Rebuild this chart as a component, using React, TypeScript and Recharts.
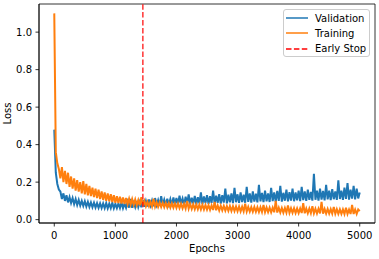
import React from 'react';
import { LineChart, Line, XAxis, YAxis, ReferenceLine, ReferenceArea, Legend, Label } from 'recharts';

const EPOCH_STEP = 25;

const validationLoss = [
  0.48, 0.25, 0.19, 0.16,
  0.15, 0.11, 0.14, 0.10, 0.13, 0.092, 0.12, 0.088,
  0.115, 0.082, 0.11, 0.078, 0.105, 0.075, 0.10, 0.073,
  0.098, 0.07, 0.095, 0.068, 0.092, 0.066, 0.09, 0.064, 0.088, 0.063, 0.087, 0.062,
  0.086, 0.061, 0.088, 0.06, 0.085, 0.061, 0.09, 0.06, 0.084, 0.061, 0.086, 0.062, 0.092, 0.061, 0.085, 0.063,
  0.095, 0.064, 0.11, 0.063, 0.09, 0.066, 0.1, 0.067, 0.095, 0.066, 0.105, 0.068,
  0.1, 0.07, 0.108, 0.075, 0.102, 0.071, 0.115, 0.078, 0.104, 0.074, 0.125, 0.079, 0.106, 0.076, 0.112, 0.08, 0.109, 0.077, 0.118, 0.081,
  0.115, 0.08, 0.128, 0.084, 0.112, 0.079, 0.122, 0.085, 0.135, 0.082, 0.117, 0.086, 0.126, 0.081, 0.12, 0.087, 0.145, 0.083, 0.124, 0.088,
  0.13, 0.084, 0.125, 0.089, 0.155, 0.085, 0.128, 0.09, 0.136, 0.086, 0.13, 0.091, 0.165, 0.087, 0.133, 0.092, 0.14, 0.088, 0.17, 0.093,
  0.135, 0.089, 0.145, 0.094, 0.133, 0.09, 0.175, 0.095, 0.14, 0.091, 0.15, 0.096, 0.138, 0.092, 0.185, 0.097, 0.143, 0.093, 0.155, 0.098,
  0.14, 0.094, 0.17, 0.099, 0.145, 0.095, 0.153, 0.1, 0.18, 0.096, 0.143, 0.101, 0.16, 0.097, 0.147, 0.102, 0.165, 0.098, 0.145, 0.103,
  0.155, 0.099, 0.175, 0.104, 0.15, 0.1, 0.16, 0.105, 0.148, 0.101, 0.245, 0.106, 0.155, 0.102, 0.165, 0.107, 0.153, 0.103, 0.185, 0.108,
  0.155, 0.104, 0.163, 0.109, 0.15, 0.105, 0.21, 0.11, 0.155, 0.106, 0.17, 0.111, 0.195, 0.107, 0.16, 0.112, 0.18, 0.108, 0.165, 0.113, 0.145,
];

const trainingLoss = [
  1.10, 0.36, 0.30, 0.27,
  0.22, 0.28, 0.2, 0.26, 0.19, 0.25, 0.175, 0.23,
  0.165, 0.22, 0.155, 0.21, 0.15, 0.2, 0.14, 0.205,
  0.135, 0.19, 0.13, 0.18, 0.125, 0.17, 0.12, 0.165, 0.115, 0.16, 0.11, 0.15,
  0.105, 0.145, 0.1, 0.14, 0.097, 0.135, 0.094, 0.13, 0.09, 0.125, 0.088, 0.122, 0.086, 0.118, 0.084, 0.115,
  0.082, 0.112, 0.08, 0.11, 0.079, 0.107, 0.077, 0.104, 0.076, 0.12, 0.075, 0.1,
  0.072, 0.095, 0.071, 0.094, 0.07, 0.112, 0.069, 0.092, 0.068, 0.091, 0.067, 0.09, 0.066, 0.089, 0.065, 0.088, 0.064, 0.087, 0.063, 0.086,
  0.062, 0.086, 0.061, 0.085, 0.06, 0.084, 0.059, 0.1, 0.058, 0.083, 0.057, 0.082, 0.056, 0.081, 0.055, 0.08, 0.054, 0.079, 0.054, 0.078,
  0.053, 0.077, 0.052, 0.076, 0.051, 0.095, 0.05, 0.075, 0.049, 0.074, 0.049, 0.073, 0.048, 0.072, 0.047, 0.072, 0.046, 0.071, 0.046, 0.07,
  0.045, 0.07, 0.044, 0.069, 0.044, 0.085, 0.043, 0.068, 0.043, 0.067, 0.042, 0.067, 0.042, 0.066, 0.041, 0.066, 0.041, 0.078, 0.04, 0.065,
  0.04, 0.064, 0.039, 0.064, 0.039, 0.1, 0.038, 0.063, 0.038, 0.062, 0.037, 0.062, 0.037, 0.075, 0.036, 0.061, 0.036, 0.061, 0.035, 0.06,
  0.035, 0.06, 0.035, 0.088, 0.034, 0.059, 0.034, 0.059, 0.034, 0.072, 0.033, 0.058, 0.033, 0.058, 0.033, 0.095, 0.032, 0.057, 0.032, 0.057,
  0.032, 0.056, 0.032, 0.068, 0.031, 0.056, 0.031, 0.055, 0.031, 0.055, 0.03, 0.063, 0.03, 0.054, 0.03, 0.078, 0.03, 0.054, 0.03, 0.054, 0.045,
];

const EARLY_STOP_EPOCH = 1450;
const xTicks = [0, 1000, 2000, 3000, 4000, 5000];
const yTicks = [0, 0.2, 0.4, 0.6, 0.8, 1.0];
const X_DOMAIN: [number, number] = [-250, 5250];
const Y_DOMAIN: [number, number] = [-0.018, 1.15];

const BLUE = '#1f77b4';
const ORANGE = '#ff7f0e';
const RED = '#ff0000';
const FONT = '"DejaVu Sans", sans-serif';

const data = validationLoss.map((v, i) => ({
  epoch: i * EPOCH_STEP,
  validation: v,
  training: trainingLoss[i],
}));

const legendItems = [
  { label: 'Validation', color: BLUE, dash: undefined },
  { label: 'Training', color: ORANGE, dash: undefined },
  { label: 'Early Stop', color: RED, dash: '5.5 2.4' },
];

function LossLegend() {
  return (
    <div
      style={{
        position: 'relative',
        width: 87,
        height: 48,
        boxSizing: 'border-box',
        border: '1px solid #cccccc',
        borderRadius: 3,
        background: 'rgba(255,255,255,0.8)',
        fontFamily: FONT,
        fontSize: 10,
        color: '#000',
      }}
    >
      {legendItems.map((item, i) => (
        <div
          key={item.label}
          style={{
            position: 'absolute',
            left: 2,
            top: 0.5 + i * 15.3,
            height: 15,
            display: 'flex',
            alignItems: 'center',
            whiteSpace: 'nowrap',
          }}
        >
          <svg width={22} height={4} style={{ display: 'block' }}>
            <line x1={0} x2={22} y1={2} y2={2} stroke={item.color} strokeWidth={1.5} strokeDasharray={item.dash} />
          </svg>
          <span style={{ marginLeft: 7, lineHeight: '15px' }}>{item.label}</span>
        </div>
      ))}
    </div>
  );
}

const tickStyle = { fontSize: 10, fill: '#000', fontFamily: FONT };

export default function App() {
  return (
    <div style={{ position: 'absolute', left: 0, top: 0, width: 379, height: 259, background: '#fff' }}>
      <LineChart width={379} height={259} data={data} margin={{ top: 4, right: 4, bottom: 0, left: 0 }}>
        <XAxis
          dataKey="epoch"
          type="number"
          domain={X_DOMAIN}
          ticks={xTicks}
          allowDataOverflow
          height={36}
          tickSize={3.5}
          tickMargin={5}
          tick={tickStyle}
          stroke="#000"
          strokeWidth={0.8}
        >
          <Label value="Epochs" position="insideBottom" offset={7.5} style={{ fontSize: 10, fill: '#000', fontFamily: FONT }} />
        </XAxis>
        <YAxis
          type="number"
          domain={Y_DOMAIN}
          ticks={yTicks}
          allowDataOverflow
          width={39}
          tickSize={3.5}
          tickMargin={3.5}
          tick={tickStyle}
          tickFormatter={(v: number) => v.toFixed(1)}
          stroke="#000"
          strokeWidth={0.8}
        >
          <Label
            value="Loss"
            angle={-90}
            position="insideLeft"
            offset={7}
            style={{ fontSize: 10, fill: '#000', fontFamily: FONT, textAnchor: 'middle' }}
          />
        </YAxis>
        <ReferenceArea
          x1={X_DOMAIN[0]}
          x2={X_DOMAIN[1]}
          y1={Y_DOMAIN[0]}
          y2={Y_DOMAIN[1]}
          fill="none"
          stroke="#000"
          strokeWidth={0.8}
          ifOverflow="visible"
        />
        <Line
          dataKey="validation"
          stroke={BLUE}
          strokeWidth={2}
          strokeLinejoin="miter"
          dot={false}
          activeDot={false}
          isAnimationActive={false}
          type="linear"
        />
        <Line
          dataKey="training"
          stroke={ORANGE}
          strokeWidth={2}
          strokeLinejoin="miter"
          dot={false}
          activeDot={false}
          isAnimationActive={false}
          type="linear"
        />
        <ReferenceLine x={EARLY_STOP_EPOCH} stroke={RED} strokeWidth={1.5} strokeDasharray="5.5 2.4" strokeOpacity={0.8} />
        <Legend
          layout="vertical"
          align="center"
          verticalAlign="middle"
          wrapperStyle={{ top: 9, left: 283, width: 87, height: 48 }}
          content={() => <LossLegend />}
        />
      </LineChart>
    </div>
  );
}
